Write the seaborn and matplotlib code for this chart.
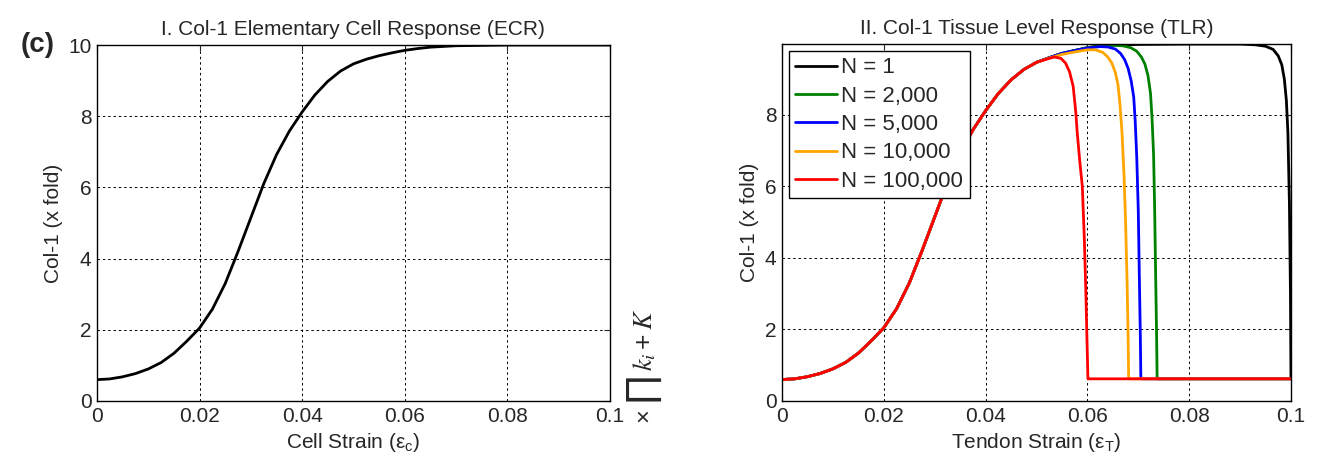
import matplotlib
matplotlib.use('Agg')
import matplotlib.pyplot as plt
import seaborn as sns
import pandas as pd

sns.set_style('white')
plt.rcParams['font.family'] = ['Liberation Sans', 'DejaVu Sans']
plt.rcParams['mathtext.fontset'] = 'custom'
plt.rcParams['mathtext.rm'] = 'Liberation Sans'
plt.rcParams['mathtext.it'] = 'Liberation Sans'
plt.rcParams['mathtext.default'] = 'regular'

# I. elementary cell response
cell_strain = [0, 0.0025, 0.005, 0.0075, 0.01, 0.0125, 0.015, 0.0175, 0.02, 0.0225,
               0.025, 0.0275, 0.03, 0.0325, 0.035, 0.0375, 0.04, 0.0425, 0.045,
               0.0475, 0.05, 0.0525, 0.055, 0.0575, 0.06, 0.0625, 0.065, 0.0675,
               0.07, 0.075, 0.08, 0.1]
cell_col1 = [0.60, 0.62, 0.68, 0.77, 0.90, 1.08, 1.34, 1.68, 2.05, 2.58,
             3.3, 4.2, 5.15, 6.1, 6.92, 7.58, 8.12, 8.6, 8.98,
             9.27, 9.47, 9.6, 9.7, 9.78, 9.85, 9.9, 9.94, 9.96,
             9.98, 9.99, 10.0, 10.0]

# II. tissue level response: shared rising part, then one tail per N
rise_strain = [0, 0.0025, 0.005, 0.0075, 0.01, 0.0125, 0.015, 0.0175, 0.02, 0.0225,
               0.025, 0.0275, 0.03, 0.0325, 0.035, 0.0375, 0.04, 0.0425, 0.045,
               0.0475, 0.05]
rise_col1 = [0.60, 0.62, 0.68, 0.77, 0.90, 1.08, 1.34, 1.68, 2.05, 2.58,
             3.3, 4.2, 5.15, 6.1, 6.92, 7.58, 8.12, 8.6, 8.98,
             9.27, 9.47]

tail_n1_strain = [0.0525, 0.055, 0.0575, 0.06, 0.0625, 0.065, 0.07, 0.08, 0.09, 0.093,
                  0.095, 0.0965, 0.0975, 0.0982, 0.0987, 0.0991, 0.0994, 0.0997,
                  0.0999, 0.1]
tail_n1_col1 = [9.6, 9.72, 9.8, 9.88, 9.93, 9.95, 9.97, 9.98, 9.98, 9.96,
                9.92, 9.83, 9.65, 9.4, 9.0, 8.4, 7.5, 5.5,
                3.0, 0.62]

tail_n2000_strain = [0.0525, 0.055, 0.0575, 0.06, 0.0625, 0.065, 0.067, 0.0685, 0.0697,
                     0.0706, 0.0713, 0.0719, 0.0724, 0.0727, 0.073, 0.0732, 0.0734,
                     0.0736, 0.0737, 0.1]
tail_n2000_col1 = [9.6, 9.72, 9.8, 9.88, 9.93, 9.95, 9.93, 9.88, 9.78,
                   9.62, 9.42, 9.1, 8.6, 7.9, 6.9, 5.5, 3.6,
                   1.8, 0.62, 0.62]

tail_n5000_strain = [0.0525, 0.055, 0.0575, 0.06, 0.0625, 0.064, 0.0655, 0.0665, 0.0673,
                     0.068, 0.0686, 0.0691, 0.0694, 0.0697, 0.07, 0.0702, 0.0704,
                     0.0705, 0.1]
tail_n5000_col1 = [9.6, 9.72, 9.8, 9.87, 9.91, 9.9, 9.84, 9.72, 9.55,
                   9.3, 8.95, 8.5, 7.8, 6.8, 5.3, 3.5, 1.8,
                   0.62, 0.62]

tail_n10000_strain = [0.0525, 0.055, 0.0575, 0.06, 0.0615, 0.063, 0.064, 0.0648, 0.0655,
                      0.066, 0.0664, 0.0668, 0.0672, 0.0675, 0.0678, 0.068, 0.0681, 0.1]
tail_n10000_col1 = [9.59, 9.69, 9.76, 9.82, 9.82, 9.75, 9.62, 9.45, 9.18,
                    8.85, 8.3, 7.5, 6.3, 5.0, 3.3, 1.8, 0.62, 0.62]

tail_n100000_strain = [0.052, 0.0535, 0.0548, 0.0557, 0.0565, 0.0572, 0.0577, 0.058,
                       0.0585, 0.059, 0.0594, 0.0597, 0.0599, 0.0601, 0.1]
tail_n100000_col1 = [9.56, 9.62, 9.58, 9.45, 9.2, 8.8, 8.1, 7.5,
                     6.7, 6.0, 4.5, 3.0, 1.8, 0.62, 0.62]

labels = ['N = 1', 'N = 2,000', 'N = 5,000', 'N = 10,000', 'N = 100,000']
colors = ['black', 'green', 'blue', 'orange', 'red']
tails = [(tail_n1_strain, tail_n1_col1), (tail_n2000_strain, tail_n2000_col1),
         (tail_n5000_strain, tail_n5000_col1), (tail_n10000_strain, tail_n10000_col1),
         (tail_n100000_strain, tail_n100000_col1)]

xticks = [0, 0.02, 0.04, 0.06, 0.08, 0.1]
xticklabels = ['0', '0.02', '0.04', '0.06', '0.08', '0.1']

fig = plt.figure(figsize=(13.2, 4.69), dpi=100)
ax1 = fig.add_axes([0.0735, 0.145, 0.3885, 0.759])
ax2 = fig.add_axes([0.5925, 0.145, 0.3855, 0.761])


def style_axis(ax):
    ax.grid(True, color='black', linestyle=(0, (2.5, 3)), linewidth=0.7)
    ax.set_axisbelow(True)
    ax.tick_params(direction='in', top=True, right=True, labelsize=15,
                   length=4, width=0.8, pad=4)
    for s in ax.spines.values():
        s.set_visible(True)
        s.set_color('black')
        s.set_linewidth(1.0)
    ax.set_xlim(0, 0.1)
    ax.set_xticks(xticks)
    ax.set_xticklabels(xticklabels)


# left panel
df_cell = pd.DataFrame({'strain': cell_strain, 'col1': cell_col1})
sns.lineplot(data=df_cell, x='strain', y='col1', ax=ax1, color='black',
             linewidth=2, sort=False, estimator=None)
style_axis(ax1)
ax1.set_ylim(0, 10)
ax1.set_yticks([0, 2, 4, 6, 8, 10])
ax1.set_title('I. Col-1 Elementary Cell Response (ECR)', fontsize=15, pad=7)
ax1.set_xlabel('Cell Strain (ε$_c$)', fontsize=15)
ax1.set_ylabel('Col-1 (x fold)', fontsize=15)

# right panel
for lab, col, (ts, tc) in zip(labels, colors, tails):
    df = pd.DataFrame({'strain': rise_strain + ts, 'col1': rise_col1 + tc})
    sns.lineplot(data=df, x='strain', y='col1', ax=ax2, color=col, linewidth=2,
                 sort=False, estimator=None, label=lab)
style_axis(ax2)
ax2.set_ylim(0, 9.98)
ax2.set_yticks([0, 2, 4, 6, 8])
ax2.set_title('II. Col-1 Tissue Level Response (TLR)', fontsize=15, pad=7)
ax2.set_xlabel('Tendon Strain (ε$_T$)', fontsize=15)
ax2.set_ylabel('Col-1 (x fold)', fontsize=15)
leg = ax2.legend(loc='upper left', fontsize=16, frameon=True, fancybox=False,
                 borderaxespad=0.3, handlelength=1.85, handletextpad=0.2,
                 labelspacing=0.33, borderpad=0.3)
leg.get_frame().set_edgecolor('black')
leg.get_frame().set_linewidth(1.0)
leg.get_frame().set_alpha(1)

fig.text(0.016, 0.905, '(c)', fontsize=20, fontweight='bold', va='center')
# stray rotated formula fragment between the panels
fig.text(0.4885, 0.11, r'$\times$', rotation=90, fontsize=17,
         math_fontfamily='stix', va='center', ha='center')
fig.text(0.4885, 0.165, r'$\prod$', rotation=90, fontsize=28,
         math_fontfamily='stix', va='center', ha='center')
fig.text(0.4885, 0.275, r'$\mathit{k_i} + \mathit{K}$', rotation=90, fontsize=19,
         math_fontfamily='stix', va='center', ha='center')

fig.savefig('out.png', dpi=100)
